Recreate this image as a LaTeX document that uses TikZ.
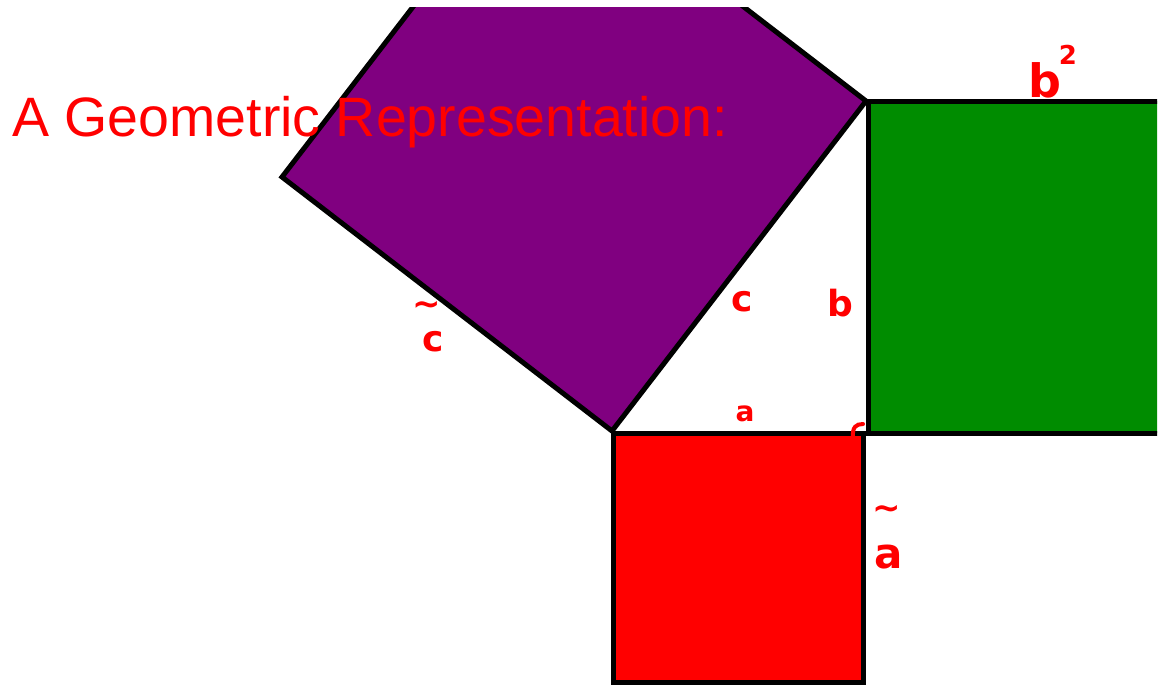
\documentclass[tikz,border=0pt]{standalone}
\usepackage{fontspec}
\setmainfont{Liberation Sans}
\newfontfamily\handfont{DejaVu Sans}
\definecolor{sqpurple}{RGB}{128,0,128}
\definecolor{sqgreen}{RGB}{0,140,0}
\definecolor{sqred}{RGB}{255,0,0}
\begin{document}
\begin{tikzpicture}[x=1pt,y=-1pt,
  sq/.style={draw=black,line width=5pt,line join=miter},
  hand/.style={text=sqred,font=\handfont\bfseries\fontsize{36}{36}\selectfont,inner sep=0pt},
  handsup/.style={text=sqred,font=\handfont\bfseries\fontsize{26}{26}\selectfont,inner sep=0pt},
  handtilde/.style={text=sqred,font=\handfont\bfseries\fontsize{34}{34}\selectfont,inner sep=0pt},
  anglemark/.style={draw=sqred,line width=4pt,line cap=round}]
\useasboundingbox (0,0) rectangle (1161,685);
% triangle corners
\coordinate (A) at (612,431);
\coordinate (C) at (866,431);
\coordinate (B) at (866,101);
% square on c (purple), clipped at top
\begin{scope}
\clip (0,8) rectangle (1161,685);
\draw[sq,fill=sqpurple] (A) -- (B) -- (536,-153) -- (282,177) -- cycle;
\end{scope}
% square on b (green), clipped at right
\begin{scope}
\clip (0,0) rectangle (1157,685);
\draw[sq,fill=sqgreen] (868,101) rectangle (1200,433);
\end{scope}
% square on a (red)
\draw[sq,fill=sqred] (613,433) rectangle (863,682);
% title
\node[anchor=base west,inner sep=0pt,text=sqred,font=\fontsize{55.5}{55.5}\selectfont] (title) at (12,136) {A Geometric Representation:};
% handwritten labels
\node[hand] (lc) at (742,302) {c};
\node[hand] (lb) at (840,303) {b};
\node[hand,font=\handfont\bfseries\fontsize{28}{28}\selectfont] (la) at (745,414) {a};
\node[hand,font=\handfont\bfseries\fontsize{46}{46}\selectfont] (lb2) at (1045,80) {b};
\node[handsup] (lb2s) at (1068,55) {2};
\node[hand] (lc2) at (433,342) {c};
\node[handtilde] (lc2s) at (427,308) {\textasciitilde};
\node[hand,font=\handfont\bfseries\fontsize{42}{42}\selectfont] (la2) at (889,557) {a};
\node[handtilde] (la2s) at (887,512) {\textasciitilde};
% right-angle mark
\draw[anglemark] (853,438) .. controls (852,427) and (856,424) .. (863,424);
\end{tikzpicture}
\end{document}
